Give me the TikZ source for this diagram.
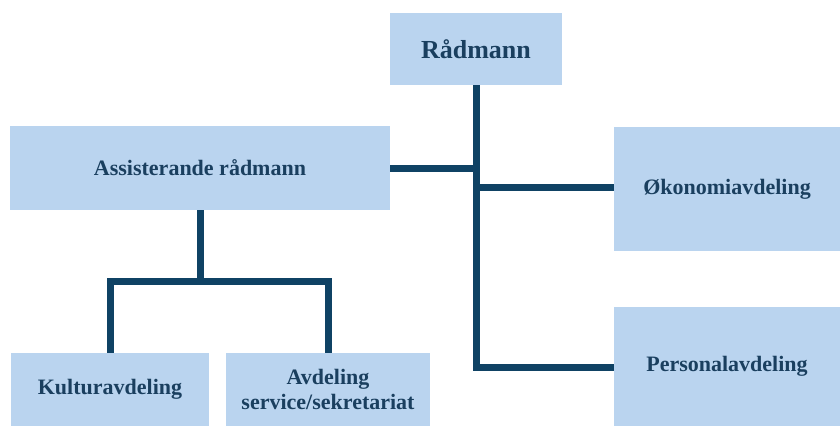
\documentclass[tikz,border=0pt]{standalone}
\usepackage{fontspec}
\setmainfont{Liberation Serif}
\definecolor{boxfill}{HTML}{BAD4EF}
\definecolor{linecol}{HTML}{0F4264}
\definecolor{txtcol}{HTML}{1A3F5F}
\begin{document}
\begin{tikzpicture}[x=1pt,y=-1pt,
  orgbox/.style={fill=boxfill,draw=none,inner sep=0pt,align=center,text=txtcol,
    font=\bfseries\fontsize{22}{25}\selectfont},
  conn/.style={draw=linecol,line width=7pt,line join=miter,line cap=butt}]
\useasboundingbox (0,0) rectangle (840,426);
\node[orgbox,minimum width=172pt,minimum height=72pt,font=\bfseries\fontsize{26}{30}\selectfont] (rad) at (476,49) {Rådmann};
\node[orgbox,minimum width=380pt,minimum height=84pt] (ass) at (200,168) {Assisterande rådmann};
\node[orgbox,minimum width=226pt,minimum height=124pt] (oko) at (727,189) {\raisebox{0pt}{Økonomiavdeling}};
\node[orgbox,minimum width=226pt,minimum height=119pt] (per) at (727,366.5) {Personalavdeling};
\node[orgbox,minimum width=198pt,minimum height=73pt] (kul) at (110,389.5) {Kulturavdeling};
\node[orgbox,minimum width=204pt,minimum height=73pt] (avd) at (328,389.5) {Avdeling\\service/sekretariat};
\coordinate (j1) at (476,168);
\coordinate (j2) at (476,187);
\coordinate (j3) at (476,367);
\coordinate (b1) at (200,281);
\coordinate (bl) at (110,281);
\coordinate (br) at (328,281);
\draw[conn] (rad.south) -- (j3) -- (j3 -| per.west);
\draw[conn] (ass.east |- j1) -- (j1);
\draw[conn] (j2) -- (j2 -| oko.west);
\draw[conn] (ass.south) -- (b1);
\draw[conn] (kul.north) -- (bl) -- (br) -- (avd.north);
\end{tikzpicture}
\end{document}
